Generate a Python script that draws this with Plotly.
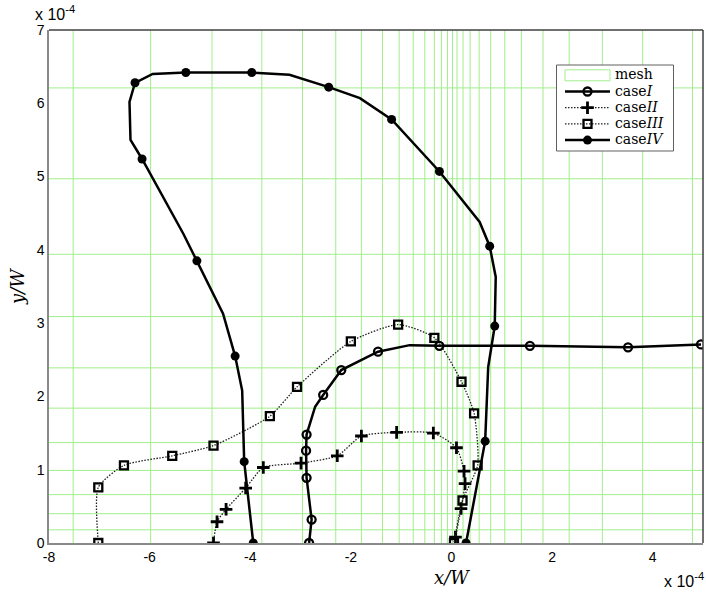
import plotly.graph_objects as go

# ---- data (all coordinates in units of 1e-4) ----
# finite-element mesh lines
mesh_x = [-7.52, -5.98, -4.76, -3.77, -2.96, -2.30, -1.79, -1.37, -1.04, -0.76,
          -0.53, -0.34, -0.20, -0.08, 0.02, 0.11, 0.23, 0.37, 0.55, 0.78,
          1.06, 1.39, 1.82, 2.34, 3.00, 3.80, 4.79]
mesh_y = [0.18, 0.40, 0.66, 0.99, 1.37, 1.84, 2.39, 3.09, 3.94, 4.97, 6.21]

# case I: path vertices and which vertices carry a marker
case1_x = [-2.83, -2.78, -2.88, -2.89, -2.88, -2.71, -2.55, -2.19, -1.46, -0.83,
           -0.24, 1.56, 3.51, 4.96]
case1_y = [0.00, 0.32, 0.89, 1.26, 1.48, 1.86, 2.02, 2.36, 2.61, 2.70,
           2.69, 2.69, 2.67, 2.71]
case1_mark = [1, 1, 1, 1, 1, 0, 1, 1, 1, 0, 1, 1, 1, 1]

# case II
case2_x = [-4.73, -4.66, -4.48, -4.09, -3.74, -2.99, -2.27, -1.79, -1.09, -0.36,
           0.10, 0.25, 0.27, 0.19, 0.08]
case2_y = [0.00, 0.29, 0.46, 0.75, 1.03, 1.09, 1.19, 1.46, 1.51, 1.50,
           1.30, 0.98, 0.81, 0.47, 0.08]

# case III
case3_x = [-7.02, -7.02, -6.51, -5.55, -4.73, -3.61, -3.07, -2.00, -1.06, -0.34,
           0.20, 0.45, 0.52, 0.22, 0.05]
case3_y = [0.00, 0.76, 1.06, 1.19, 1.33, 1.73, 2.13, 2.75, 2.98, 2.80,
           2.20, 1.77, 1.06, 0.58, 0.00]

# case IV
case4_x = [-3.94, -4.12, -4.16, -4.30, -4.54, -5.06, -5.33, -6.15, -6.38, -6.40,
           -6.29, -5.94, -5.28, -3.97, -3.22, -2.44, -1.82, -1.19, -0.24, 0.56,
           0.76, 0.88, 0.86, 0.73, 0.67, 0.29]
case4_y = [0.00, 1.11, 2.08, 2.55, 3.13, 3.85, 4.22, 5.24, 5.50, 6.02,
           6.28, 6.40, 6.42, 6.42, 6.39, 6.22, 6.07, 5.78, 5.07, 4.38,
           4.05, 3.63, 2.96, 2.40, 1.39, 0.00]
case4_mark = [1, 1, 0, 1, 0, 1, 0, 1, 0, 0,
              1, 0, 1, 1, 0, 1, 0, 1, 1, 0,
              1, 0, 1, 0, 1, 1]

x_ticks = [-8, -6, -4, -2, 0, 2, 4]
y_ticks = [0, 1, 2, 3, 4, 5, 6, 7]
legend_names = ["mesh", "case<i>I</i>", "case<i>II</i>", "case<i>III</i>", "case<i>IV</i>"]

# ---- styling ----
W, H = 706, 593
L, R, T, B = 49, 3, 30, 50
PX0, PX1, PY0, PY1 = L, W - R, T, H - B
MESH_COLOR = "rgb(160,238,140)"
SERIF = "DejaVu Serif, serif"
SANS = "Arial, Liberation Sans, sans-serif"
DOT = "1.5px,1.5px"


def paper(px, py):
    return (px - PX0) / (PX1 - PX0), (PY1 - py) / (PY1 - PY0)


def pick(vals, flags):
    return [v for v, f in zip(vals, flags) if f]


fig = go.Figure()

# mesh lines
mx, my = [], []
for xv in mesh_x:
    mx += [xv, xv, None]
    my += [0, 7, None]
for yv in mesh_y:
    mx += [-8, 5, None]
    my += [yv, yv, None]
fig.add_trace(go.Scatter(x=mx, y=my, mode="lines", hoverinfo="skip",
                         line=dict(color=MESH_COLOR, width=1), showlegend=False))

dotted = dict(color="#202020", width=1.3, dash=DOT)

# case I
fig.add_trace(go.Scatter(x=case1_x, y=case1_y, mode="lines",
                         line=dict(color="black", width=2.5), showlegend=False))
fig.add_trace(go.Scatter(x=pick(case1_x, case1_mark), y=pick(case1_y, case1_mark),
                         mode="markers", showlegend=False,
                         marker=dict(symbol="circle-open", size=8, color="black",
                                     line=dict(width=2.3, color="black"))))
# case II
fig.add_trace(go.Scatter(x=case2_x, y=case2_y, mode="lines+markers", showlegend=False,
                         line=dict(shape="spline", smoothing=0.6, **dotted),
                         marker=dict(symbol="cross-thin-open", size=9, color="black",
                                     line=dict(width=2.8, color="black"))))
# case III
fig.add_trace(go.Scatter(x=case3_x, y=case3_y, mode="lines+markers", showlegend=False,
                         line=dict(shape="spline", smoothing=0.6, **dotted),
                         marker=dict(symbol="square-open", size=8, color="black",
                                     line=dict(width=2.3, color="black"))))
# case IV
fig.add_trace(go.Scatter(x=case4_x, y=case4_y, mode="lines",
                         line=dict(color="black", width=2.5), showlegend=False))
fig.add_trace(go.Scatter(x=pick(case4_x, case4_mark), y=pick(case4_y, case4_mark),
                         mode="markers", showlegend=False,
                         marker=dict(symbol="circle", size=9, color="black")))

# ---- legend drawn on an overlay axis measured in pixels ----
ov = dict(xaxis="x2", yaxis="y2", showlegend=False, hoverinfo="skip")
bx0, by0, bx1, by1 = 556.5, 65, 673.5, 151
fig.add_trace(go.Scatter(x=[bx0, bx1, bx1, bx0, bx0], y=[by0, by0, by1, by1, by0],
                         mode="lines", fill="toself", fillcolor="white",
                         line=dict(color="#606060", width=1), **ov))
rows = [75.3, 91.5, 107.7, 123.9, 140.1]
sx0, sx1, sxm = 565, 610, 587.5
fig.add_trace(go.Scatter(x=[sx0, sx1, sx1, sx0, sx0],
                         y=[rows[0] - 5.5, rows[0] - 5.5, rows[0] + 5.5, rows[0] + 5.5, rows[0] - 5.5],
                         mode="lines", line=dict(color=MESH_COLOR, width=1), **ov))
sample_styles = [
    (dict(color="black", width=2.5), dict(symbol="circle-open", size=8, color="black",
                                           line=dict(width=2.3, color="black"))),
    (dotted, dict(symbol="cross-thin-open", size=9, color="black",
                  line=dict(width=2.8, color="black"))),
    (dotted, dict(symbol="square-open", size=8, color="black",
                  line=dict(width=2.3, color="black"))),
    (dict(color="black", width=2.5), dict(symbol="circle", size=9, color="black")),
]
for yy, (ln, mk) in zip(rows[1:], sample_styles):
    fig.add_trace(go.Scatter(x=[sx0, sx1], y=[yy, yy], mode="lines", line=ln, **ov))
    fig.add_trace(go.Scatter(x=[sxm], y=[yy], mode="markers", marker=mk, **ov))

annotations = []
for yy, name in zip(rows, legend_names):
    annotations.append(dict(x=613, y=yy - 1, xref="x2", yref="y2", text=name, showarrow=False,
                            xanchor="left", yanchor="middle",
                            font=dict(family=SERIF, size=14, color="black")))

# exponent labels and axis titles
ax_, ay_ = paper(33, 13)
annotations.append(dict(x=ax_, y=ay_, xref="paper", yref="paper", text="x 10<sup>-4</sup>",
                        showarrow=False, xanchor="left", yanchor="middle",
                        font=dict(family=SANS, size=16, color="black")))
ax_, ay_ = paper(706, 580)
annotations.append(dict(x=ax_, y=ay_, xref="paper", yref="paper", text="x 10<sup>-4</sup>",
                        showarrow=False, xanchor="right", yanchor="middle",
                        font=dict(family=SANS, size=16, color="black")))
ax_, ay_ = paper(452, 577)
annotations.append(dict(x=ax_, y=ay_, xref="paper", yref="paper", text="<i>x/W</i>",
                        showarrow=False, xanchor="center", yanchor="middle",
                        font=dict(family=SERIF, size=18, color="black")))
ax_, ay_ = paper(17, 287)
annotations.append(dict(x=ax_, y=ay_, xref="paper", yref="paper", text="<i>y/W</i>",
                        showarrow=False, xanchor="center", yanchor="middle", textangle=-90,
                        font=dict(family=SERIF, size=18, color="black")))

tickfont = dict(family=SANS, size=14, color="black")
fig.update_layout(
    width=W, height=H,
    margin=dict(l=L, r=R, t=T, b=B, pad=0),
    paper_bgcolor="white", plot_bgcolor="white",
    xaxis=dict(range=[-8, 5], tickvals=x_ticks, ticktext=[str(v) for v in x_ticks],
               showgrid=False, zeroline=False, showline=True, linecolor="#8a8a8a", linewidth=1.5,
               ticks="", tickfont=tickfont),
    yaxis=dict(range=[0, 7], tickvals=y_ticks, ticktext=[str(v) for v in y_ticks],
               showgrid=False, zeroline=False, showline=True, linecolor="#8a8a8a", linewidth=1.5,
               ticks="", tickfont=tickfont),
    xaxis2=dict(range=[PX0, PX1], overlaying="x", visible=False, fixedrange=True),
    yaxis2=dict(range=[PY1, PY0], overlaying="y", visible=False, fixedrange=True),
    annotations=annotations,
    shapes=[
        dict(type="line", xref="paper", yref="paper", x0=0, x1=1, y0=1, y1=1,
             line=dict(color="#404040", width=1.5)),
        dict(type="line", xref="paper", yref="paper", x0=1, x1=1, y0=0, y1=1,
             line=dict(color="#404040", width=1.5)),
    ],
    showlegend=False,
)

fig.write_html("out.html")
